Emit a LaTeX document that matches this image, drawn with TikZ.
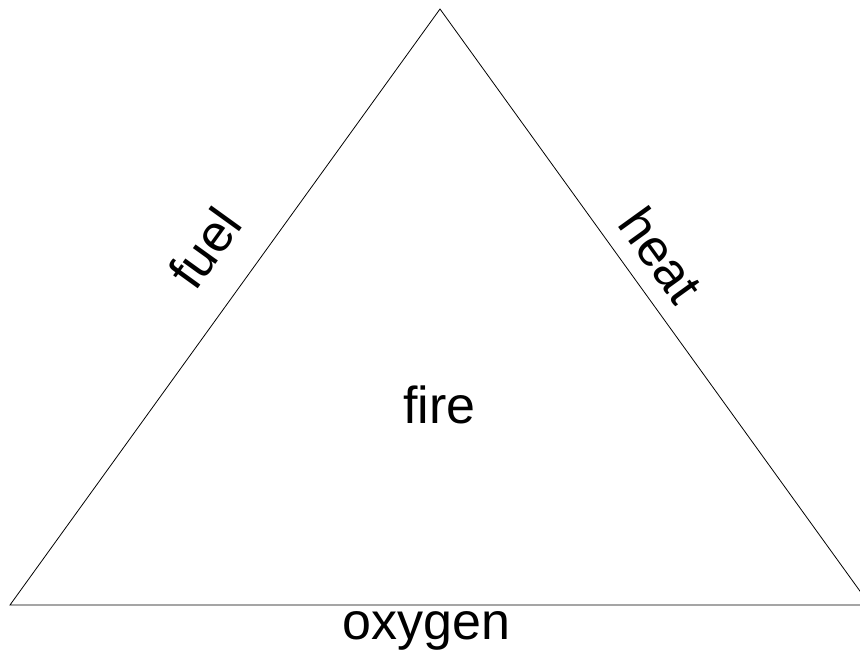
\documentclass[tikz,border=0pt]{standalone}
\usepackage{fontspec}
\setmainfont{Liberation Sans}
\begin{document}
\begin{tikzpicture}[x=1pt,y=-1pt,
  lbl/.style={inner sep=0pt,font=\fontsize{52}{60}\selectfont},
  edge/.style={draw=black,line width=0.8pt}]
\useasboundingbox (0,0) rectangle (860,653);
\clip (0,0) rectangle (860,653);
\coordinate (top) at (440,9);
\coordinate (bl) at (10,605);
\coordinate (br) at (870,605);
\draw[edge] (bl) -- (top) -- (br) -- cycle;
\node[lbl,rotate=54.2] (fuel) at (204.5,248) {fuel};
\node[lbl,rotate=-54.2] (heat) at (661,255) {heat};
\node[lbl,anchor=base] (fire) at (439.5,423) {fire};
\node[lbl,anchor=base] (oxygen) at (426.5,639) {oxygen};
\end{tikzpicture}
\end{document}
